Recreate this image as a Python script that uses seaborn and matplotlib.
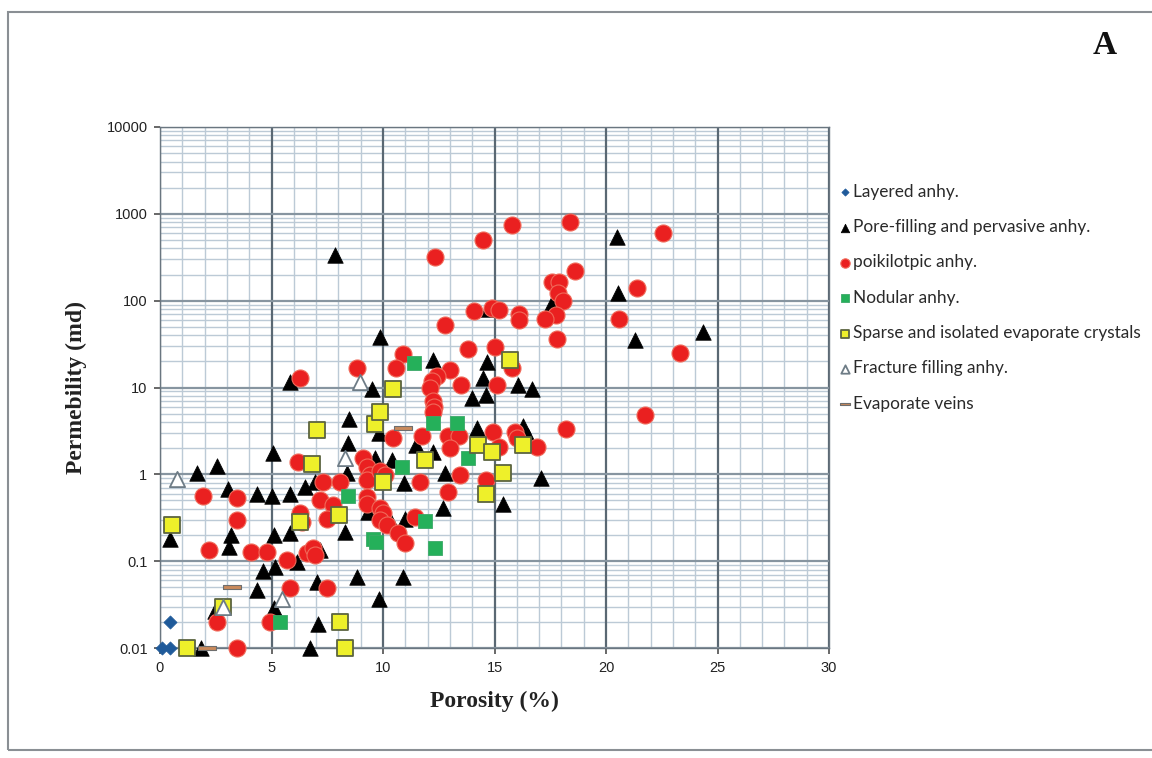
import numpy as np
import pandas as pd
import matplotlib
matplotlib.use("Agg")
import matplotlib.pyplot as plt
import matplotlib.ticker as mticker
from matplotlib.patches import Rectangle
import seaborn as sns

# ---------------- data ----------------
layered_x = [0.08, 0.45, 0.45]
layered_y = [0.01, 0.01, 0.02]

pore_x = [7.85, 20.5, 20.54, 17.6, 24.35, 21.3, 9.87, 5.83, 9.5, 12.24, 14.66, 14.5,
          16.05, 16.7, 14.0, 14.6, 14.7, 16.3, 16.5, 17.1, 15.4, 14.2, 11.5, 12.25,
          12.8, 12.7, 10.95, 11.0, 10.9, 8.48, 9.8, 8.43, 8.38, 9.64, 10.4, 6.95,
          6.5, 5.83, 5.0, 4.35, 5.07, 2.55, 1.66, 3.05, 0.45, 3.2, 3.1, 5.83, 5.1,
          7.17, 6.14, 4.6, 5.16, 8.83, 7.03, 4.35, 9.8, 2.47, 5.1, 7.1, 1.85, 6.73,
          10.3, 9.33, 8.3]
pore_y = [332, 540, 121, 93, 44, 35, 38, 11.5, 9.5, 21, 19.5, 13,
          10.6, 9.6, 7.5, 8.1, 80, 3.6, 2.8, 0.9, 0.46, 3.4, 2.16, 1.8,
          1.03, 0.41, 0.79, 0.31, 0.065, 4.3, 2.96, 2.3, 1.03, 1.53, 1.45, 0.81,
          0.71, 0.6, 0.57, 0.6, 1.74, 1.24, 1.03, 0.68, 0.18, 0.2, 0.145, 0.21, 0.2,
          0.133, 0.097, 0.077, 0.085, 0.066, 0.058, 0.047, 0.037, 0.027, 0.029, 0.019, 0.01, 0.01,
          0.3, 0.37, 0.215]

poik_x = [15.8, 18.4, 14.5, 22.56, 12.33, 18.6, 17.6, 17.9, 17.85, 18.07, 17.76, 17.26,
          21.4, 20.6, 23.3, 17.8, 14.1, 14.9, 15.2, 16.1, 16.1, 12.8, 13.8, 15.0,
          10.9, 10.6, 8.83, 6.28, 13.0, 12.4, 12.2, 12.1, 13.5, 15.1, 15.8, 12.25,
          12.3, 12.25, 21.75, 18.2, 14.93, 15.9, 16.0, 16.9, 15.2, 11.75, 12.9, 13.4,
          13.0, 10.45, 14.6, 11.66, 13.45, 12.9, 9.1, 9.3, 9.4, 9.3, 9.87, 10.1,
          9.3, 9.3, 9.87, 10.0, 9.87, 10.2, 10.67, 11.0, 11.43, 7.3, 8.07, 7.17,
          7.76, 7.5, 6.2, 1.93, 3.45, 3.45, 2.2, 4.1, 4.8, 5.7, 6.28, 6.37,
          6.6, 6.87, 6.95, 5.83, 7.5, 2.55, 4.93, 3.45]
poik_y = [740, 800, 500, 600, 316, 218, 163, 163, 121, 100, 68, 62,
          139, 62, 25, 36, 76, 82, 78, 71, 60, 53, 28, 29,
          24, 16.7, 16.7, 13, 15.8, 13.5, 12, 10, 10.6, 10.6, 16.6, 7.0,
          6.0, 5.2, 4.8, 3.3, 3.05, 3.05, 2.65, 2.05, 2.05, 2.8, 2.8, 2.8,
          2.0, 2.6, 0.85, 0.81, 0.97, 0.62, 1.53, 1.2, 0.97, 0.85, 1.1, 0.97,
          0.55, 0.46, 0.41, 0.36, 0.3, 0.26, 0.21, 0.16, 0.32, 0.81, 0.81, 0.5,
          0.44, 0.31, 1.37, 0.57, 0.53, 0.3, 0.133, 0.127, 0.127, 0.102, 0.36, 0.28,
          0.123, 0.14, 0.117, 0.049, 0.049, 0.02, 0.02, 0.01]

nod_x = [11.4, 12.25, 13.3, 13.8, 10.86, 8.43, 11.9, 9.55, 9.7, 12.33, 5.4]
nod_y = [19, 3.85, 3.85, 1.55, 1.22, 0.57, 0.29, 0.18, 0.165, 0.14, 0.02]

sparse_x = [0.54, 1.2, 2.83, 6.28, 6.8, 7.04, 8.03, 8.07, 8.3, 9.64, 9.87, 10.45,
            10.0, 11.9, 14.26, 14.9, 14.6, 15.4, 16.3, 15.7]
sparse_y = [0.26, 0.01, 0.03, 0.28, 1.33, 3.2, 0.34, 0.02, 0.01, 3.8, 5.2, 9.7,
            0.81, 1.45, 2.16, 1.8, 0.6, 1.03, 2.16, 20.5]

frac_x = [0.76, 2.83, 5.47, 8.3, 8.97]
frac_y = [0.88, 0.03, 0.037, 1.53, 11.5]

vein_x = [2.1, 3.25, 10.9]
vein_y = [0.01, 0.05, 3.4]

labels = ["Layered anhy.", "Pore-filling and pervasive anhy.", "poikilotpic anhy.",
          "Nodular anhy.", "Sparse and isolated evaporate crystals",
          "Fracture filling anhy.", "Evaporate veins"]

x_ticks = [0, 5, 10, 15, 20, 25, 30]
y_ticks = [0.01, 0.1, 1, 10, 100, 1000, 10000]

# ---------------- figure ----------------
sns.set_theme(style="white")
plt.rcParams['font.family'] = ['Liberation Sans', 'DejaVu Sans']

fig = plt.figure(figsize=(11.52, 7.58), dpi=100)
fig.patch.set_facecolor("white")
ax = fig.add_axes([160/1152, 1-648/758, (829-160)/1152, (648-127)/758])

# grid
for v in range(0, 31):
    if v % 5 == 0:
        ax.axvline(v, color="#5a6873", lw=1.6, zorder=1)
    else:
        ax.axvline(v, color="#bccad6", lw=1.0, zorder=0.5)
for d in range(-2, 4):
    for m in range(2, 10):
        ax.axhline(m * 10.0**d, color="#bccad6", lw=1.0, zorder=0.5)
for d in range(-2, 5):
    ax.axhline(10.0**d, color="#8795a0", lw=1.6, zorder=1)

vein_marker = [(-1, -0.28), (1, -0.28), (1, 0.28), (-1, 0.28), (-1, -0.28)]

series = [
    (layered_x, layered_y, dict(marker="D", s=45, color="#1f5a9a", edgecolor="#1f5a9a", linewidth=0.5)),
    (pore_x, pore_y, dict(marker="^", s=125, color="black", edgecolor="black", linewidth=0.5)),
    (poik_x, poik_y, dict(marker="o", s=150, color="#ea2020", edgecolor="#f06a5a", linewidth=0.8)),
    (nod_x, nod_y, dict(marker="s", s=110, color="#25b05a", edgecolor="#3ca868", linewidth=0.6)),
    (sparse_x, sparse_y, dict(marker="s", s=120, color="#eef02a", edgecolor="#5c6440", linewidth=1.3)),
    (frac_x, frac_y, dict(marker="^", s=120, color="white", edgecolor="#6e7c86", linewidth=1.3)),
    (vein_x, vein_y, dict(marker=vein_marker, s=150, color="#c98a5c", edgecolor="#6e6e6e", linewidth=0.8)),
]
for (xs, ys, kw), lab in zip(series, labels):
    df = pd.DataFrame({"Porosity": xs, "Perm": ys})
    sns.scatterplot(data=df, x="Porosity", y="Perm", ax=ax, label=lab, zorder=3,
                    clip_on=False, **kw)

ax.set_yscale("log")
ax.set_xlim(0, 30)
ax.set_ylim(0.01, 10000)
ax.set_xticks(x_ticks)
ax.set_yticks(y_ticks)
ax.yaxis.set_minor_locator(mticker.NullLocator())
ax.yaxis.set_major_formatter(mticker.FuncFormatter(lambda v, p: f"{v:g}" if v < 1 else f"{int(round(v))}"))
ax.tick_params(axis="both", labelsize=10.5, length=4, color="#555555", direction="out",
               left=True, bottom=True, labelcolor="#222222", pad=5)
for sp in ax.spines.values():
    sp.set_color("#6a7680")
    sp.set_linewidth(1.0)

ax.set_xlabel("Porosity (%)", fontsize=17, fontweight="bold", family="Liberation Serif",
              labelpad=12, color="#222222")
ax.set_ylabel("Permebility (md)", fontsize=17, fontweight="bold", family="Liberation Serif",
              labelpad=14, color="#222222")

handles, labs = ax.get_legend_handles_labels()
ax.get_legend().remove()
fig.legend(handles, labs, loc="upper left", bbox_to_anchor=(829/1152, 1-177/758),
           frameon=False, markerscale=0.55, labelspacing=1.12,
           handletextpad=0.0, handlelength=1.0, borderaxespad=0,
           prop={"family": "Lato", "size": 12.4}, labelcolor="#2a2a2a")

fig.text(1105/1152, 1-46/758, "A", fontsize=24, fontweight="bold", family="Liberation Serif",
         ha="center", va="center", color="#111111")

fig.patches.append(Rectangle((8/1152, 8/758), 1.2, 1-20/758, transform=fig.transFigure,
                             fill=False, edgecolor="#8a8f94", lw=1.5))

fig.savefig("out.png", dpi=100)
